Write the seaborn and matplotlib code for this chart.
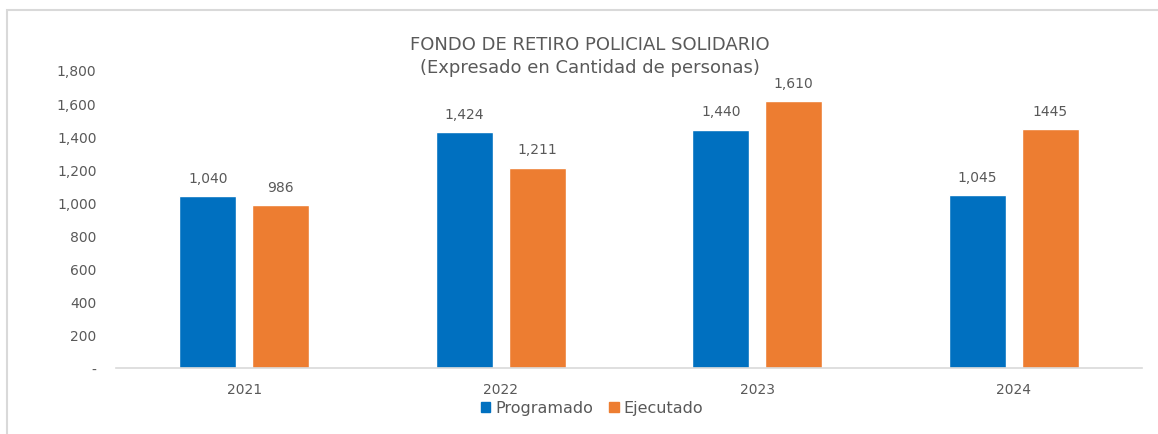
import matplotlib
matplotlib.use("Agg")
import matplotlib.pyplot as plt
import seaborn as sns
import pandas as pd
from matplotlib.patches import Rectangle
from matplotlib.ticker import FuncFormatter

years = ["2021", "2022", "2023", "2024"]
programado = [1040, 1424, 1440, 1045]
ejecutado = [986, 1211, 1610, 1445]
labels_prog = ["1,040", "1,424", "1,440", "1,045"]
labels_ejec = ["986", "1,211", "1,610", "1445"]
series_names = ["Programado", "Ejecutado"]
colors = ["#0070C0", "#ED7D31"]

df = pd.DataFrame({
    "year": years * 2,
    "value": programado + ejecutado,
    "serie": [series_names[0]] * 4 + [series_names[1]] * 4,
})

sns.set_theme(style="white")
plt.rcParams["font.family"] = ["DejaVu Sans"]
txt = "#595959"

fig = plt.figure(figsize=(11.58, 4.35), dpi=100)
ax = fig.add_axes([116 / 1158, 1 - 369 / 435, (1142 - 116) / 1158, (369 - 55) / 435])

sns.barplot(data=df, x="year", y="value", hue="serie", palette=colors,
            width=0.57, gap=0.22, ax=ax, saturation=1, legend=False)

ax.set_ylim(0, 1800 * (369 - 55) / (369 - 71))
ax.set_yticks(range(0, 1801, 200))
ax.yaxis.set_major_formatter(FuncFormatter(lambda v, p: "-" if v == 0 else f"{int(v):,}"))
ax.tick_params(axis="both", length=0, labelsize=10, colors=txt)
ax.tick_params(axis="y", pad=14)
ax.tick_params(axis="x", pad=10)
ax.set_xlabel("")
ax.set_ylabel("")
for s in ["top", "right", "left"]:
    ax.spines[s].set_visible(False)
ax.spines["bottom"].set_color("#D9D9D9")
ax.spines["bottom"].set_linewidth(1.2)
ax.set_xlim(-0.5, 3.5)

for cont, labs in zip(ax.containers, [labels_prog, labels_ejec]):
    ax.bar_label(cont, labels=labs, padding=8, fontsize=10, color=txt)

fig.text(590 / 1158, 1 - 45 / 435, "FONDO DE RETIRO POLICIAL SOLIDARIO",
         ha="center", va="center", fontsize=13, color=txt)
fig.text(590 / 1158, 1 - 68 / 435, "(Expresado en Cantidad de personas)",
         ha="center", va="center", fontsize=13, color=txt)

handles = [Rectangle((0, 0), 1, 1, color=c) for c in colors]
fig.legend(handles, series_names, loc="center", bbox_to_anchor=(592 / 1158, 1 - 409 / 435),
           ncol=2, frameon=False, fontsize=11.5, handlelength=0.6, handleheight=0.6,
           handletextpad=0.3, columnspacing=1.0, labelcolor=txt)

border = Rectangle((7 / 1158, -0.1), 1.2, 1 - 11 / 435 + 0.1, transform=fig.transFigure,
                   fill=False, edgecolor="#D9D9D9", linewidth=1.5)
fig.patches.append(border)

fig.savefig("out.png", dpi=100)
